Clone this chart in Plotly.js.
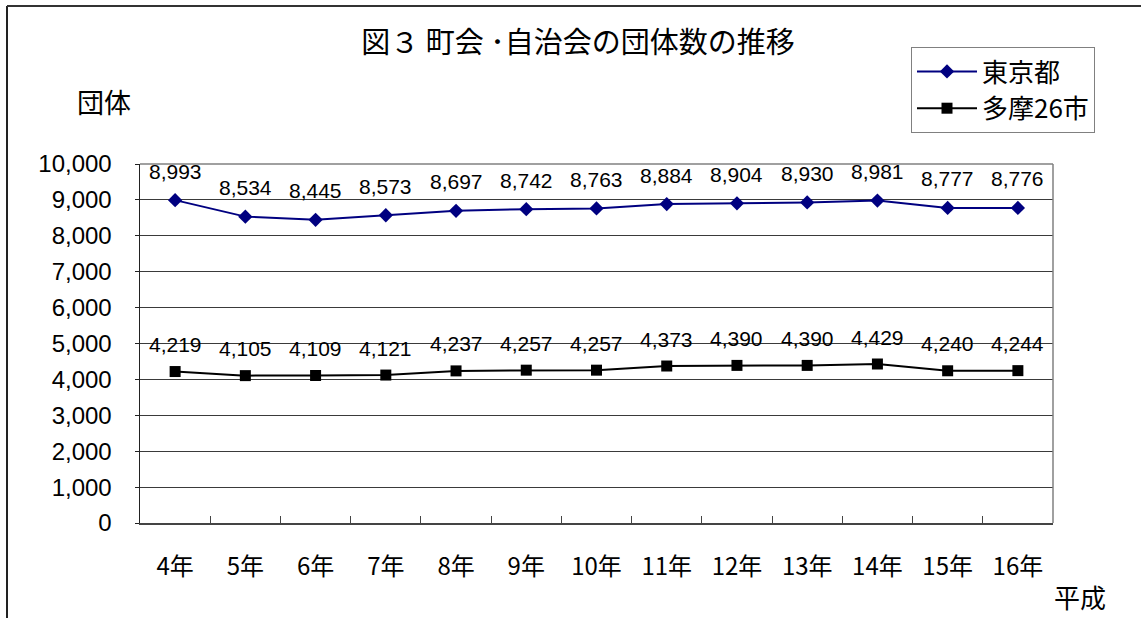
<!DOCTYPE html>
<html>
<head>
<meta charset="utf-8">
<script src="https://cdn.plot.ly/plotly-3.0.1.min.js"></script>
<style>
  html, body { margin: 0; padding: 0; background: #fff; }
  #chart { width: 1141px; height: 618px; }
</style>
</head>
<body>
<div id="chart"></div>
<script>
// 平成4年〜16年の町会・自治会数
const years = ['4年', '5年', '6年', '7年', '8年', '9年', '10年', '11年', '12年', '13年', '14年', '15年', '16年'];
const tokyo = [8993, 8534, 8445, 8573, 8697, 8742, 8763, 8884, 8904, 8930, 8981, 8777, 8776];
const tama  = [4219, 4105, 4109, 4121, 4237, 4257, 4257, 4373, 4390, 4390, 4429, 4240, 4244];
const seriesNames = ['東京都', '多摩26市'];
const yTicks = [0, 1000, 2000, 3000, 4000, 5000, 6000, 7000, 8000, 9000, 10000];

const W = 1141, H = 618;
const M = { l: 140, r: 88, t: 164, b: 95 };
const PW = W - M.l - M.r, PH = H - M.t - M.b;
// pixel -> paper coordinates
const px = x => (x - M.l) / PW;
const py = y => (H - M.b - y) / PH;

const NUM_FONT = 'Liberation Sans, Arial, Noto Sans CJK JP, sans-serif';
const JP_FONT = 'Noto Sans CJK JP, sans-serif';

const fmt = v => v.toLocaleString('en-US');

const traces = [
  {
    x: years, y: tokyo, name: seriesNames[0], type: 'scatter', mode: 'lines+markers',
    line: { color: '#000080', width: 2 },
    marker: { symbol: 'diamond', size: 11, color: '#000080' },
    legendgroup: 'a'
  },
  {
    x: years, y: tama, name: seriesNames[1], type: 'scatter', mode: 'lines+markers',
    line: { color: '#000000', width: 2 },
    marker: { symbol: 'square', size: 11, color: '#000000' },
    legendgroup: 'b'
  }
];

// value labels above each point
const annotations = [];
years.forEach((c, i) => {
  annotations.push({ x: c, y: tokyo[i], xref: 'x', yref: 'y', text: fmt(tokyo[i]),
    showarrow: false, yshift: 29, font: { family: NUM_FONT, size: 21, color: '#000' } });
  annotations.push({ x: c, y: tama[i], xref: 'x', yref: 'y', text: fmt(tama[i]),
    showarrow: false, yshift: 27, font: { family: NUM_FONT, size: 21, color: '#000' } });
});
annotations.push({ x: px(104), y: py(102), xref: 'paper', yref: 'paper', text: '団体',
  showarrow: false, xanchor: 'center', yanchor: 'middle', font: { family: JP_FONT, size: 27, color: '#000' } });
annotations.push({ x: px(1080), y: py(596), xref: 'paper', yref: 'paper', text: '平成',
  showarrow: false, xanchor: 'center', yanchor: 'middle', font: { family: JP_FONT, size: 26, color: '#000' } });

const shapes = [
  // outer frame (left and top edges)
  { type: 'line', xref: 'paper', yref: 'paper', x0: px(7), y0: py(620), x1: px(7), y1: py(6),
    line: { color: '#222', width: 2 } },
  { type: 'line', xref: 'paper', yref: 'paper', x0: px(7), y0: py(6), x1: px(1145), y1: py(6),
    line: { color: '#333', width: 2 } },
  // plot area border (top and right)
  { type: 'line', xref: 'paper', yref: 'paper', x0: 0, y0: 1, x1: 1, y1: 1,
    line: { color: '#808080', width: 1.5 }, layer: 'above' },
  { type: 'line', xref: 'paper', yref: 'paper', x0: 1, y0: 0, x1: 1, y1: 1,
    line: { color: '#808080', width: 1.5 }, layer: 'above' }
];

const layout = {
  width: W, height: H,
  margin: M,
  paper_bgcolor: '#fff', plot_bgcolor: '#fff',
  showlegend: true,
  title: {
    text: '図３ 町会 ･自治会の団体数の推移',
    font: { family: JP_FONT, size: 29, color: '#000' },
    xref: 'container', yref: 'container',
    x: 578 / W, xanchor: 'center',
    y: 1 - 43 / H, yanchor: 'middle'
  },
  xaxis: {
    type: 'category',
    range: [-0.5, years.length - 0.5],
    showgrid: false, zeroline: false,
    showline: true, linecolor: '#444', linewidth: 2,
    ticks: 'inside', tickson: 'boundaries', ticklen: 7, tickcolor: '#444', tickwidth: 1,
    ticklabelstandoff: 21,
    tickfont: { family: JP_FONT, size: 24, color: '#000' }
  },
  yaxis: {
    range: [0, 10000],
    tickvals: yTicks,
    ticktext: yTicks.map(fmt),
    showgrid: true, gridcolor: '#3a3a3a', gridwidth: 1,
    zeroline: false,
    showline: true, linecolor: '#222', linewidth: 1.5,
    ticks: 'outside', ticklen: 4, tickcolor: '#222',
    ticklabelstandoff: 18,
    tickfont: { family: NUM_FONT, size: 24, color: '#000' }
  },
  legend: {
    x: px(911), y: py(47), xanchor: 'left', yanchor: 'top',
    xref: 'paper', yref: 'paper',
    bgcolor: '#fff', bordercolor: '#808080', borderwidth: 1,
    font: { family: JP_FONT, size: 26, color: '#000' },
    tracegroupgap: 0, itemwidth: 60
  },
  annotations: annotations,
  shapes: shapes
};

Plotly.newPlot('chart', traces, layout, { staticPlot: true, displayModeBar: false });
</script>
</body>
</html>
